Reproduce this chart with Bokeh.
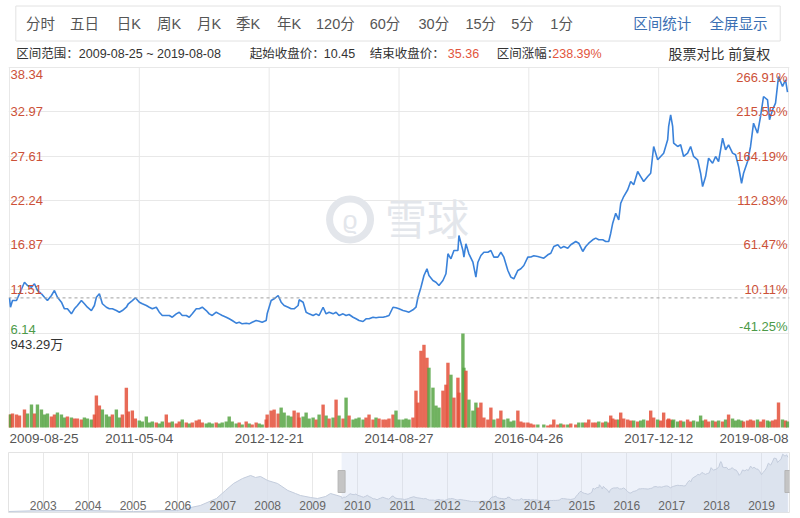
import pandas as pd
from bokeh.plotting import figure
from bokeh.layouts import column
from bokeh.models import Range1d, FixedTicker, Span
from bokeh.core.properties import value
from bokeh.embed import file_html
from bokeh.resources import INLINE

# ---------------- data ----------------
menu_items = ["分时", "五日", "日K", "周K", "月K", "季K", "年K", "120分", "60分", "30分", "15分", "5分", "1分"]
tool_items = ["区间统计", "全屏显示"]
range_start = "2009-08-25"
range_end = "2019-08-08"
start_close = 10.45
end_close = 35.36
change_pct = 238.39

price_ticks = [6.14, 11.51, 16.87, 22.24, 27.61, 32.97, 38.34]
pct_labels = ["-41.25%", "10.11%", "61.47%", "112.83%", "164.19%", "215.55%", "266.91%"]
date_labels = ["2009-08-25", "2011-05-04", "2012-12-21", "2014-08-27", "2016-04-26", "2017-12-12", "2019-08-08"]
date_index = [0, 130, 260, 390, 520, 650, 780]   # trading-day position index of each date label
vol_max = 943.29                                  # 万

# trading-day position index (0..780) and close price
t = [0, 1, 3, 7, 10, 15, 18, 22, 25, 28,
     32, 35, 38, 42, 45, 48, 52, 55, 58, 62,
     65, 68, 72, 75, 78, 82, 85, 87, 90, 93,
     97, 100, 103, 107, 110, 113, 117, 119, 123, 126,
     130, 133, 137, 140, 143, 147, 150, 153, 157, 160,
     163, 167, 170, 173, 177, 180, 183, 187, 190, 193,
     197, 200, 203, 207, 210, 213, 217, 220, 223, 227,
     230, 233, 237, 240, 243, 247, 250, 253, 257, 258,
     262, 265, 269, 272, 275, 279, 282, 285, 289, 290,
     294, 297, 300, 304, 307, 310, 314, 317, 320, 324,
     327, 330, 334, 337, 340, 344, 347, 350, 354, 357,
     360, 364, 367, 370, 374, 377, 380, 384, 387, 390,
     394, 397, 400, 404, 407, 409, 412, 415, 418, 420,
     424, 427, 430, 434, 437, 439, 442, 445, 449, 450,
     454, 455, 457, 460, 464, 467, 469, 472, 475, 479,
     482, 485, 489, 492, 495, 499, 502, 505, 509, 512,
     515, 519, 522, 525, 529, 535, 539, 542, 545, 549, 552,
     555, 559, 562, 567, 570, 574, 577, 580, 584, 587,
     590, 594, 597, 600, 602, 604, 607, 610, 612, 615,
     619, 622, 625, 629, 632, 635, 639, 642, 645, 649,
     652, 655, 659, 660, 662, 664, 665, 669, 672, 675,
     679, 682, 685, 689, 692, 694, 697, 700, 704, 707,
     710, 714, 717, 720, 724, 727, 730, 733, 735, 739,
     742, 745, 749, 752, 755, 759, 761, 764, 767, 770,
     774, 777, 779]

close = [10.45, 9.32, 10.13, 10.13, 10.95, 12.35, 11.95, 11.74, 12.16, 11.35,
         10.95, 10.53, 10.13, 10.74, 11.35, 10.53, 9.93, 9.13, 9.13, 8.52,
         9.13, 9.53, 10.13, 9.74, 9.32, 8.92, 9.53, 10.53, 10.95, 9.74,
         9.32, 9.13, 9.13, 8.92, 8.72, 8.92, 9.32, 9.74, 10.13, 10.46,
         9.93, 9.74, 9.53, 9.32, 9.13, 9.32, 8.72, 8.32, 8.32, 8.32,
         8.11, 8.52, 8.72, 8.32, 8.32, 8.11, 8.52, 9.13, 9.13, 9.32,
         8.92, 8.52, 8.32, 8.72, 8.52, 8.32, 8.11, 7.92, 7.71, 7.39,
         7.51, 7.31, 7.39, 7.31, 7.51, 7.71, 7.63, 7.51, 7.71, 8.52,
         10.13, 10.34, 10.74, 9.93, 9.53, 9.32, 9.13, 9.13, 9.53, 10.22,
         9.93, 8.72, 8.52, 8.32, 8.52, 8.32, 9.32, 8.52, 8.72, 8.52,
         8.72, 8.32, 8.52, 8.32, 8.44, 8.11, 7.92, 7.71, 7.59, 7.92,
         7.92, 8.11, 8.04, 8.11, 8.11, 8.20, 8.32, 9.32, 9.25, 9.13,
         8.92, 8.84, 8.72, 9.01, 9.32, 10.53, 11.74, 13.16, 13.97, 13.16,
         12.56, 12.35, 11.95, 12.56, 13.37, 15.79, 15.18, 16.19, 16.19, 18.00,
         16.19, 15.38, 17.00, 15.79, 14.77, 12.96, 14.77, 15.58, 15.98, 15.98,
         16.19, 15.38, 15.38, 15.98, 15.38, 13.77, 12.96, 12.76, 13.77, 13.97,
         14.37, 15.38, 15.40, 15.55, 15.46, 15.26, 15.67, 15.86, 16.67, 16.88, 16.47,
         16.67, 16.47, 16.88, 17.28, 17.07, 16.07, 16.67, 17.07, 17.48, 17.68,
         17.48, 17.48, 17.28, 17.28, 18.28, 19.49, 20.70, 19.90, 21.91, 22.72,
         23.54, 24.54, 24.14, 25.75, 25.14, 24.54, 25.14, 25.54, 28.78, 27.17,
         27.57, 27.97, 29.59, 31.20, 32.61, 31.20, 29.18, 28.78, 28.98, 27.57,
         27.97, 28.78, 27.57, 27.17, 25.54, 23.93, 25.14, 27.36, 26.75, 27.57,
         26.96, 29.78, 28.38, 28.98, 27.97, 27.77, 26.36, 24.33, 25.54, 26.96,
         28.78, 31.60, 30.39, 32.41, 34.83, 34.43, 32.01, 33.22, 34.02, 37.25,
         36.04, 36.85, 35.36]

# volume, 万
volume = [130, 130, 140, 130, 120, 180, 140, 230, 140, 230,
          180, 130, 140, 110, 130, 150, 130, 100, 110, 100,
          90, 90, 80, 100, 90, 80, 130, 320, 220, 180,
          130, 110, 130, 180, 100, 130, 400, 160, 170, 90,
          70, 60, 110, 50, 60, 50, 40, 60, 130, 50,
          60, 40, 60, 80, 50, 40, 50, 70, 80, 50,
          40, 50, 40, 50, 40, 50, 60, 110, 60, 40,
          50, 30, 60, 40, 30, 50, 40, 30, 80, 130,
          170, 180, 140, 200, 150, 120, 110, 170, 150, 100,
          110, 150, 90, 100, 80, 130, 230, 120, 90, 100,
          280, 120, 90, 300, 120, 80, 90, 100, 80, 100,
          130, 80, 100, 90, 80, 80, 90, 130, 170, 80,
          80, 90, 80, 100, 370, 250, 770, 830, 700, 600,
          400, 220, 200, 370, 430, 650, 530, 300, 500, 350,
          943.29, 600, 570, 280, 170, 250, 200, 250, 100, 80,
          200, 80, 90, 170, 80, 90, 60, 70, 170, 60,
          50, 50, 40, 30, 30, 30, 20, 30, 80, 30, 40,
          30, 30, 40, 30, 50, 50, 50, 80, 50, 50,
          60, 50, 60, 50, 120, 90, 80, 80, 150, 90,
          80, 70, 70, 60, 70, 80, 70, 170, 100, 80,
          70, 150, 80, 90, 80, 70, 80, 60, 70, 60,
          80, 60, 70, 60, 120, 70, 80, 60, 70, 60,
          70, 60, 80, 130, 90, 70, 80, 70, 60, 70,
          80, 70, 80, 60, 80, 70, 60, 70, 80, 250,
          80, 70, 60]

# navigator: history before the selected range (fractional year, price)
nav_early_year = [2002.23, 2003.00, 2003.99, 2005.01, 2005.97, 2006.50, 2006.86, 2007.06, 2007.24, 2007.44,
                  2007.62, 2007.73, 2007.84, 2008.00, 2008.22, 2008.45, 2008.62, 2008.73, 2008.96, 2009.11,
                  2009.29, 2009.40]
nav_early_price = [1.13, 1.76, 1.76, 1.13, 1.76, 4.92, 9.33, 14.38, 18.80, 21.95,
                   23.85, 22.59, 23.22, 20.69, 18.80, 14.38, 12.49, 11.23, 9.96, 9.33,
                   10.60, 12.49]
nav_years = list(range(2003, 2020))
nav_window = (2002.227, 2019.624)

# ---------------- styles ----------------
FONT = value("Liberation Sans, Noto Sans CJK SC")
GRID = "#e8e8e8"
RED = "#cc5138"
GREEN = "#4c9a48"
RED_TXT = "#e2553d"
DARK = "#333333"
MENU = "#555555"
BLUE_TXT = "#3b6fb3"
LINE = "#3a82da"


def yearfrac(s):
    ts = pd.Timestamp(s)
    return ts.year + (ts.dayofyear - 1) / 365.0


def base_fig(w, h, xr, yr, **kw):
    f = figure(width=w, height=h, x_range=xr, y_range=yr, output_backend="svg",
               toolbar_location=None, x_axis_location=None, y_axis_location=None, **kw)
    f.outline_line_color = None
    f.background_fill_color = "white"
    f.border_fill_color = "white"
    return f


# ---------------- header ----------------
hdr = base_fig(800, 66, Range1d(0, 800), Range1d(66, 0), min_border=0)
hdr.xgrid.visible = False
hdr.ygrid.visible = False
hdr.quad(left=[7.5], right=[790.5], top=[5.5], bottom=[40.5], fill_color="white", line_color="#e2e2e2")
menu_x = [18, 63, 111, 152, 193, 233, 275, 315, 370, 420, 468, 515, 555]
hdr.text(x=menu_x, y=[23] * len(menu_items), text=menu_items, text_font=FONT, text_font_size="14.5px",
         text_color=MENU, text_baseline="middle", text_align="left")
hdr.text(x=[640, 718], y=[23, 23], text=tool_items, text_font=FONT, text_font_size="14.5px",
         text_color=BLUE_TXT, text_baseline="middle", text_align="left")
info_txt = ["区间范围：" + range_start + " ~ " + range_end, "起始收盘价：", f"{start_close:.2f}",
            "结束收盘价：", f"{end_close:.2f}", "区间涨幅：", f"{change_pct:.2f}%"]
info_x = [8, 247, 323, 370, 450, 500, 557]
info_col = [DARK, DARK, DARK, DARK, RED_TXT, DARK, RED_TXT]
hdr.text(x=info_x, y=[53] * len(info_txt), text=info_txt, text_color=info_col, text_font=FONT,
         text_font_size="12.5px", text_baseline="middle", text_align="left")
hdr.text(x=[676], y=[53], text=["股票对比 前复权"], text_color=DARK, text_font=FONT,
         text_font_size="14px", text_baseline="middle", text_align="left")

# ---------------- main chart (price + volume) ----------------
TOP_PAD, PRICE_PX, VOL_PX, LABEL_PX = 1, 266, 94, 20
p_lo, p_hi = price_ticks[0], price_ticks[-1]
ppx = (p_hi - p_lo) / PRICE_PX
vpx = vol_max / VOL_PX
n_end = date_index[-1]
p = base_fig(800, TOP_PAD + PRICE_PX + VOL_PX + LABEL_PX,
             Range1d(-1, n_end + 1),
             Range1d(p_lo - (VOL_PX + LABEL_PX) * ppx, p_hi + TOP_PAD * ppx),
             min_border_left=7, min_border_right=10, min_border_top=0, min_border_bottom=0)
p.extra_y_ranges = {"vol": Range1d(-LABEL_PX * vpx, vol_max + (PRICE_PX + TOP_PAD) * vpx)}
p.xgrid.visible = False
p.ygrid.ticker = FixedTicker(ticks=price_ticks)
p.ygrid.grid_line_color = GRID
p.segment(x0=date_index, x1=date_index, y0=0, y1=vol_max + PRICE_PX * vpx, y_range_name="vol",
          line_color=GRID, line_width=1)

# watermark
WM = "#e3e6eb"
p.annulus(x=[341], y=[19.94], inner_radius=17, outer_radius=24, inner_radius_units="screen",
          outer_radius_units="screen", fill_color=WM, line_color=None)
p.text(x=[341], y=[19.94], text=["ϱ"], text_font=FONT, text_font_size="26px", text_color=WM,
       text_align="center", text_baseline="middle")
p.text(x=[376], y=[20.3], text=["雪球"], text_font=value("Noto Sans CJK SC"), text_font_size="42px",
       text_color=WM, text_align="left", text_baseline="middle")

p.add_layout(Span(location=start_close, dimension="width", line_color="#a0a0a0", line_dash="3 3", line_width=1))

# volume bars colored by price direction
vol_colors = ["#e4503a" if i == 0 or close[i] >= close[i - 1] else "#57a544" for i in range(len(close))]
p.vbar(x=t, top=volume, bottom=0, width=3.4, fill_color=vol_colors, line_color=None, fill_alpha=0.85,
       y_range_name="vol")

p.line(t, close, line_color=LINE, line_width=1.6)

lab_col = [RED if v > start_close else GREEN for v in price_ticks]
price_txt = [f"{v:.2f}" for v in price_ticks]
groups = [([0], "bottom"), (list(range(1, len(price_ticks) - 1)), "middle"), ([len(price_ticks) - 1], "top")]
for idx, base in groups:
    yo = 2 if base == "top" else 0
    p.text(x=[0] * len(idx), y=[price_ticks[i] for i in idx], text=[price_txt[i] for i in idx],
           text_color=[lab_col[i] for i in idx], text_font=FONT, text_font_size="13px",
           text_align="left", text_baseline=base, x_offset=1, y_offset=yo)
    p.text(x=[n_end] * len(idx), y=[price_ticks[i] for i in idx], text=[pct_labels[i] for i in idx],
           text_color=[lab_col[i] for i in idx], text_font=FONT, text_font_size="13px",
           text_align="right", text_baseline=base, x_offset=-1, y_offset=yo)

p.text(x=[0], y=[vol_max], text=[f"{vol_max:.2f}万"], text_color=DARK, text_font=FONT,
       text_font_size="13px", text_align="left", text_baseline="top", x_offset=1, y_offset=3,
       y_range_name="vol")

aligns = ["left"] + ["center"] * (len(date_labels) - 2) + ["right"]
for a in ["left", "center", "right"]:
    idx = [i for i, al in enumerate(aligns) if al == a]
    p.text(x=[date_index[i] for i in idx], y=[-11 * vpx] * len(idx), text=[date_labels[i] for i in idx],
           text_color=MENU, text_font=FONT, text_font_size="13.5px", text_align=a,
           text_baseline="middle", y_range_name="vol")

# ---------------- navigator ----------------
sel_start, sel_end = yearfrac(range_start), yearfrac(range_end)
nav_x = nav_early_year + [sel_start + ti / n_end * (sel_end - sel_start) for ti in t]
nav_y = nav_early_price + close
nav_lo, nav_hi = 0.5, p_hi
nav = base_fig(800, 71, Range1d(*nav_window), Range1d(nav_lo, nav_hi),
               min_border_left=8, min_border_right=11, min_border_top=5, min_border_bottom=6)
nav.outline_line_color = "#e3e3e3"
nav.ygrid.visible = False
nav.xgrid.ticker = FixedTicker(ticks=nav_years)
nav.xgrid.grid_line_color = GRID
nav.quad(left=[sel_start], right=[sel_end], bottom=[nav_lo], top=[nav_hi], fill_color="#c6d4ee",
         fill_alpha=0.3, line_color=None)
nav.varea(x=nav_x, y1=[nav_lo] * len(nav_x), y2=nav_y, fill_color="#d7deeb", fill_alpha=0.8)
nav.line(nav_x, nav_y, line_color="#c3ccdc", line_width=1)
nav.text(x=nav_years, y=[4.9] * len(nav_years), text=[str(y) for y in nav_years], text_color="#666666",
         text_font=FONT, text_font_size="12px", text_align="center", text_baseline="middle")
nav.rect(x=[sel_start, sel_end], y=[20.05, 20.05], width=7, height=22, width_units="screen",
         height_units="screen", fill_color="#c4c4c4", line_color="#b5b5b5")

layout = column(hdr, p, nav, spacing=0)
open("out.html", "w").write(file_html(layout, INLINE))
